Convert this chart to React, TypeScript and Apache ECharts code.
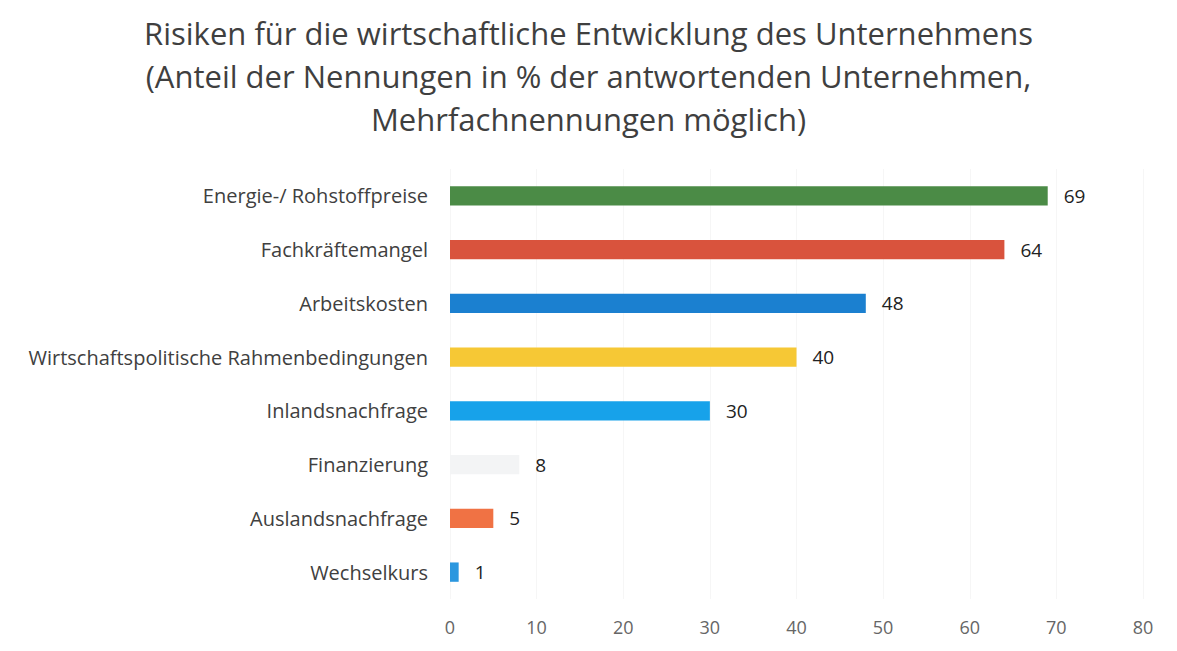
import React, { useEffect, useRef } from "react";
import * as echarts from "echarts";

const categories = [
  "Energie-/ Rohstoffpreise",
  "Fachkräftemangel",
  "Arbeitskosten",
  "Wirtschaftspolitische Rahmenbedingungen",
  "Inlandsnachfrage",
  "Finanzierung",
  "Auslandsnachfrage",
  "Wechselkurs",
];
const values = [69, 64, 48, 40, 30, 8, 5, 1];
const colors = ["#4b8b46", "#d9533d", "#1b80d0", "#f6c835", "#17a2ea", "#f3f4f5", "#f07244", "#2b97df"];
const titleLines = [
  "Risiken für die wirtschaftliche Entwicklung des Unternehmens",
  "(Anteil der Nennungen in % der antwortenden Unternehmen,",
  "Mehrfachnennungen möglich)",
];

export default function App() {
  const ref = useRef<HTMLDivElement>(null);
  useEffect(() => {
    const chart = echarts.init(ref.current!, undefined, { renderer: "svg" });
    const font = "'Open Sans', 'Noto Sans', sans-serif";
    chart.setOption({
      animation: false,
      backgroundColor: "#ffffff",
      title: {
        text: titleLines.join("\n"),
        left: "center",
        top: 6,
        textStyle: {
          fontFamily: font,
          fontSize: 31,
          fontWeight: "normal",
          color: "#3f3f3f",
          lineHeight: 43,
        },
      },
      grid: { left: 450, right: 34, top: 169, bottom: 52, containLabel: false },
      xAxis: {
        type: "value",
        min: 0,
        max: 80,
        interval: 10,
        axisLine: { show: false },
        axisTick: { show: false },
        splitLine: { show: true, lineStyle: { color: "#f6f6f6" } },
        axisLabel: { color: "#666", fontSize: 18, fontFamily: font, margin: 19 },
      },
      yAxis: {
        type: "category",
        data: categories,
        inverse: true,
        axisLine: { show: false },
        axisTick: { show: false },
        axisLabel: { color: "#404040", fontSize: 20, fontFamily: font, margin: 22 },
      },
      series: [
        {
          type: "bar",
          data: values.map((v, i) => ({ value: v, itemStyle: { color: colors[i] } })),
          barWidth: "36%",
          label: {
            show: true,
            position: "right",
            distance: 16,
            color: "#222",
            fontSize: 19,
            fontFamily: font,
          },
        },
      ],
    });
    return () => chart.dispose();
  }, []);
  return <div ref={ref} style={{ width: 1177, height: 651, position: "absolute", left: 0, top: 0 }} />;
}
